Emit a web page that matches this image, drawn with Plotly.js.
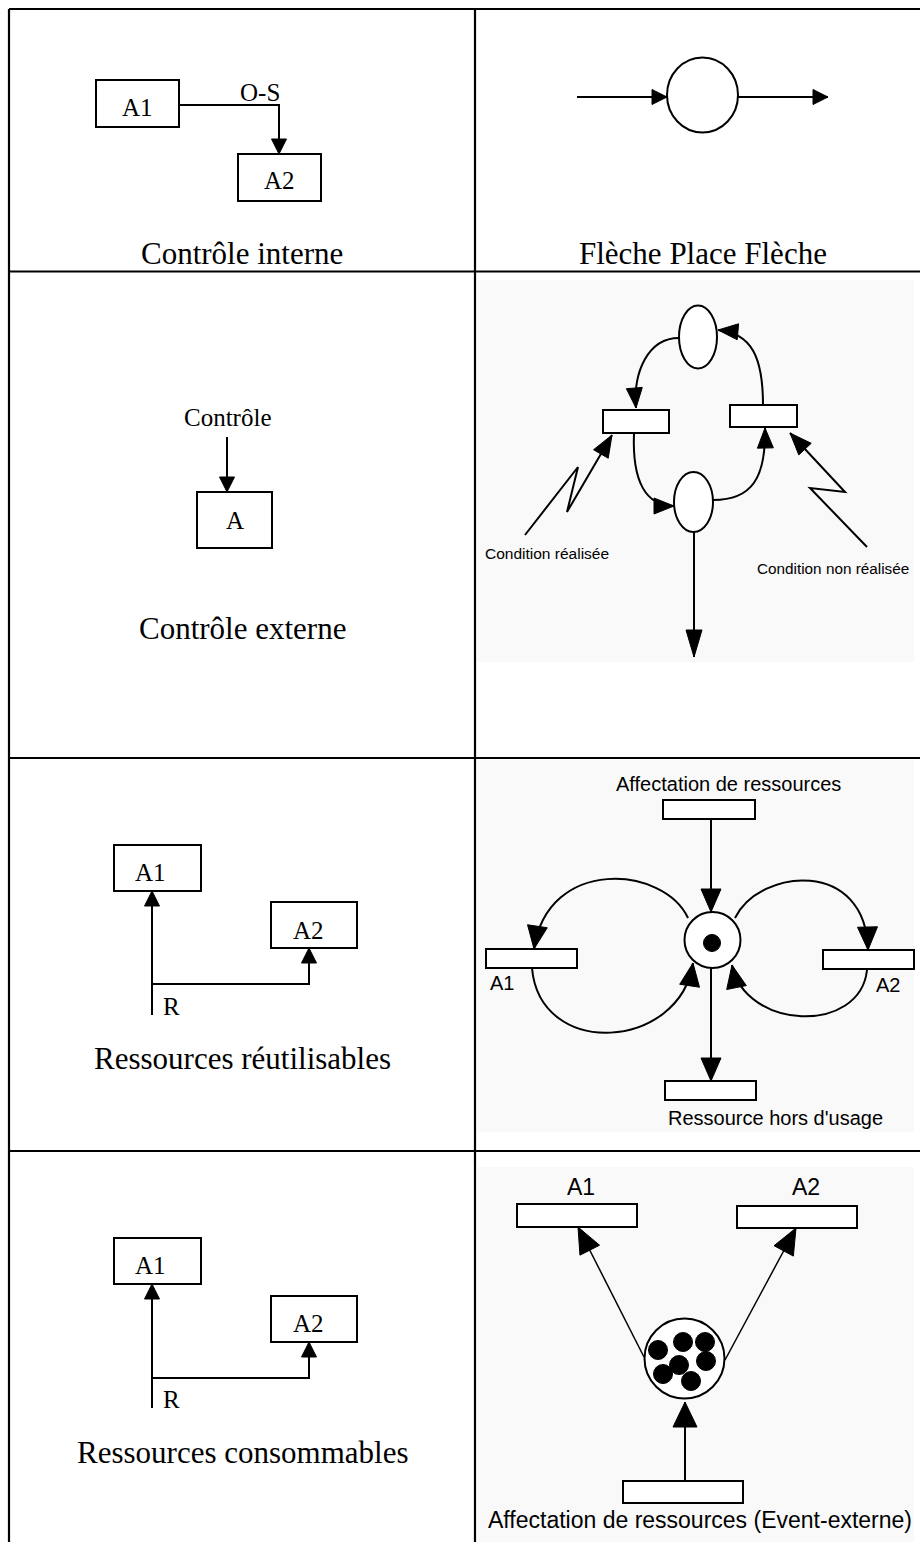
<!DOCTYPE html>
<html>
<head>
<meta charset="utf-8">
<script src="https://cdn.plot.ly/plotly-3.0.1.min.js"></script>
<style>html,body{margin:0;padding:0;background:#fff;}#chart{width:920px;height:1542px;}</style>
</head>
<body>
<div id="chart"></div>
<script>
// ---------- content (text) ----------
const captions = ["Contrôle interne", "Flèche Place Flèche", "Contrôle externe", "Ressources réutilisables", "Ressources consommables"];
const activityLabels = ["A1", "A2", "A", "R", "O-S", "Contrôle"];
const petriLabels = ["Condition réalisée", "Condition non réalisée", "Affectation de ressources", "Ressource hors d'usage", "Affectation de ressources (Event-externe)"];

// ---------- diagram geometry (page pixels, y downward) ----------
const tableRows = [9, 271.5, 758, 1151];
const tableCols = [9, 475];
const captionPos = [[242, 253], [703, 253], [242, 628], [242, 1058], [242, 1452]];
const boxes = [ // activity boxes (left column)
  [96, 80, 179, 127], [238, 154, 321, 201],
  [197, 492, 272, 548],
  [114, 845, 201, 891], [271, 902, 357, 948],
  [114, 1238, 201, 1284], [271, 1296, 357, 1342]
];
const transitions = [ // Petri-net transitions (right column)
  [603, 410, 669, 433], [730, 405, 797, 427],
  [663, 800, 755, 819], [486, 949, 577, 968], [823, 950, 914, 969], [665, 1081, 756, 1100],
  [517, 1204, 637, 1227], [737, 1206, 857, 1228], [623, 1481, 743, 1503]
];
const places = [ // cx, cy, rx, ry
  [702.5, 95, 35.5, 37.5],
  [698, 337, 19, 31.5], [693.5, 502, 19.5, 30],
  [712.5, 940, 28, 28],
  [684.5, 1358.5, 40, 40]
];
const tokens = [ // cx, cy, r
  [712, 943, 8.5],
  [658, 1350, 9.5], [683, 1342, 9.5], [705, 1342, 9.5], [679, 1365, 9.5],
  [706, 1361, 9.5], [663, 1374, 9.5], [691, 1381, 9.5]
];

const shapes = [];
const annotations = [];
const K = '#000';

function line(pts, w) {
  let d = 'M ' + pts.map(p => p[0] + ',' + p[1]).join(' L ');
  shapes.push({type: 'path', path: d, line: {color: K, width: w}, xref: 'x', yref: 'y'});
}
function rect(b, w, fill) {
  shapes.push({type: 'rect', x0: b[0], y0: b[1], x1: b[2], y1: b[3], xref: 'x', yref: 'y',
    line: {color: K, width: w}, fillcolor: fill || 'rgba(0,0,0,0)'});
}
function ell(c, w, fill) {
  shapes.push({type: 'circle', x0: c[0] - c[2], x1: c[0] + c[2], y0: c[1] - c[3], y1: c[1] + c[3],
    xref: 'x', yref: 'y', line: {color: K, width: w}, fillcolor: fill || '#fff'});
}
function head(tip, from, len, hw) {
  const dx = tip[0] - from[0], dy = tip[1] - from[1];
  const n = Math.hypot(dx, dy), ux = dx / n, uy = dy / n;
  const bx = tip[0] - ux * len, by = tip[1] - uy * len;
  const p1 = [bx - uy * hw, by + ux * hw], p2 = [bx + uy * hw, by - ux * hw];
  shapes.push({type: 'path', xref: 'x', yref: 'y',
    path: `M ${tip[0]},${tip[1]} L ${p1[0]},${p1[1]} L ${p2[0]},${p2[1]} Z`,
    fillcolor: K, line: {color: K, width: 1}});
}
function arrow(pts, w, len, hw) {
  line(pts, w);
  head(pts[pts.length - 1], pts[pts.length - 2], len, hw);
}
function curve(p0, c1, c2, p1, w, len, hw) {
  shapes.push({type: 'path', xref: 'x', yref: 'y',
    path: `M ${p0[0]},${p0[1]} C ${c1[0]},${c1[1]} ${c2[0]},${c2[1]} ${p1[0]},${p1[1]}`,
    line: {color: K, width: w}});
  head(p1, c2, len, hw);
}
function text(t, x, y, size, family) {
  annotations.push({text: t, x: x, y: y, xref: 'x', yref: 'y', showarrow: false,
    xanchor: 'center', yanchor: 'middle', font: {size: size, family: family, color: K}});
}
const SERIF = 'Liberation Serif, Times New Roman, serif';
const SANS = 'Liberation Sans, Arial, sans-serif';

// faint grey backgrounds of the pasted Petri-net pictures
rect([477, 280, 914, 662], 0, '#f9f9f9');
rect([477, 760, 914, 1132], 0, '#f9f9f9');
rect([477, 1167, 914, 1542], 0, '#f9f9f9');

// table grid
line([[tableCols[0], tableRows[0]], [920, tableRows[0]]], 2.2);
line([[tableCols[0], tableRows[0]], [tableCols[0], 1542]], 2.2);
line([[tableCols[1], tableRows[0]], [tableCols[1], 1542]], 2.2);
for (let i = 1; i < tableRows.length; i++) line([[tableCols[0], tableRows[i]], [920, tableRows[i]]], 2.2);

// captions
captions.forEach((c, i) => text(c, captionPos[i][0], captionPos[i][1], 31, SERIF));

// activity boxes
boxes.forEach(b => rect(b, 2, '#fff'));

// Row 1 left: contrôle interne
text(activityLabels[0], 137, 107, 25, SERIF);
text(activityLabels[1], 279, 180, 25, SERIF);
arrow([[179, 105], [279, 105], [279, 154]], 2, 15, 7.5);
text(activityLabels[4], 260, 92, 25, SERIF);

// Row 1 right: flèche place flèche
arrow([[577, 97], [667, 97]], 2, 15, 7.5);
ell(places[0], 2);
arrow([[738, 97], [828, 97]], 2, 15, 7.5);

// Row 2 left: contrôle externe
text(activityLabels[5], 228, 417, 25, SERIF);
arrow([[227, 437], [227, 492]], 2, 15, 7.5);
text(activityLabels[2], 235, 520, 25, SERIF);

// Row 2 right: condition
ell(places[1], 2); ell(places[2], 2);
rect(transitions[0], 2, '#fff'); rect(transitions[1], 2, '#fff');
curve([679, 338], [648, 338], [633, 372], [636, 408], 2, 20, 8);
curve([634, 433], [632, 482], [646, 506], [674, 506], 2, 20, 8);
curve([713, 500], [752, 500], [766, 478], [765, 428], 2, 20, 8);
curve([763, 405], [763, 358], [752, 333], [718, 330], 2, 20, 8);
arrow([[694, 532], [694, 657]], 2, 27, 8);
arrow([[525, 535], [578, 467], [567, 512], [612, 435]], 2, 22, 8.5);
arrow([[867, 547], [810, 488], [845, 492], [790, 433]], 2, 22, 8.5);
text(petriLabels[0], 547, 553, 15.5, SANS);
text(petriLabels[1], 833, 568, 15.3, SANS);

// Row 3 left: ressources réutilisables
text(activityLabels[0], 150, 872, 25, SERIF);
text(activityLabels[1], 308, 930, 25, SERIF);
arrow([[152, 1015], [152, 891]], 2, 15, 7.5);
arrow([[152, 984], [309, 984], [309, 948]], 2, 15, 7.5);
text(activityLabels[3], 171, 1006, 25, SERIF);

// Row 3 right: affectation de ressources
text(petriLabels[2], 728, 784, 20, SANS);
arrow([[711, 819], [711, 912]], 2, 23, 10);
arrow([[711, 968], [711, 1081]], 2, 23, 10);
curve([688, 918], [664, 866], [548, 856], [534, 949], 2, 23, 10);
curve([532, 968], [540, 1060], [680, 1050], [693, 963], 2, 23, 10);
curve([735, 918], [760, 868], [866, 858], [868, 950], 2, 23, 10);
curve([867, 970], [860, 1035], [745, 1030], [732, 965], 2, 23, 10);
ell(places[3], 2);
[2, 3, 4, 5].forEach(i => rect(transitions[i], 2, '#fff'));
text(activityLabels[0], 502, 983, 20, SANS);
text(activityLabels[1], 888, 985, 20, SANS);
text(petriLabels[3], 775, 1118, 20, SANS);

// Row 4 left: ressources consommables
text(activityLabels[0], 150, 1265, 25, SERIF);
text(activityLabels[1], 308, 1323, 25, SERIF);
arrow([[152, 1408], [152, 1284]], 2, 15, 7.5);
arrow([[152, 1378], [309, 1378], [309, 1342]], 2, 15, 7.5);
text(activityLabels[3], 171, 1399, 25, SERIF);

// Row 4 right: consumable resources
text(activityLabels[0], 581, 1187, 23, SANS);
text(activityLabels[1], 806, 1187, 23, SANS);
[6, 7, 8].forEach(i => rect(transitions[i], 2, '#fff'));
arrow([[644, 1357], [578, 1227]], 1.5, 26, 11);
arrow([[725, 1360], [796, 1228]], 1.5, 26, 11);
arrow([[685, 1481], [685, 1402]], 2, 25, 12);
ell(places[4], 2);
text(petriLabels[4], 700, 1520, 23, SANS);

// tokens
tokens.forEach(t => shapes.push({type: 'circle', xref: 'x', yref: 'y',
  x0: t[0] - t[2], x1: t[0] + t[2], y0: t[1] - t[2], y1: t[1] + t[2],
  fillcolor: K, line: {color: K, width: 1}}));

const layout = {
  width: 920, height: 1542,
  margin: {l: 0, r: 0, t: 0, b: 0, pad: 0},
  paper_bgcolor: '#fff', plot_bgcolor: '#fff',
  xaxis: {range: [0, 920], visible: false, fixedrange: true},
  yaxis: {range: [1542, 0], visible: false, fixedrange: true},
  showlegend: false,
  shapes: shapes,
  annotations: annotations
};
Plotly.newPlot('chart', [], layout, {staticPlot: true, displayModeBar: false});
</script>
</body>
</html>
